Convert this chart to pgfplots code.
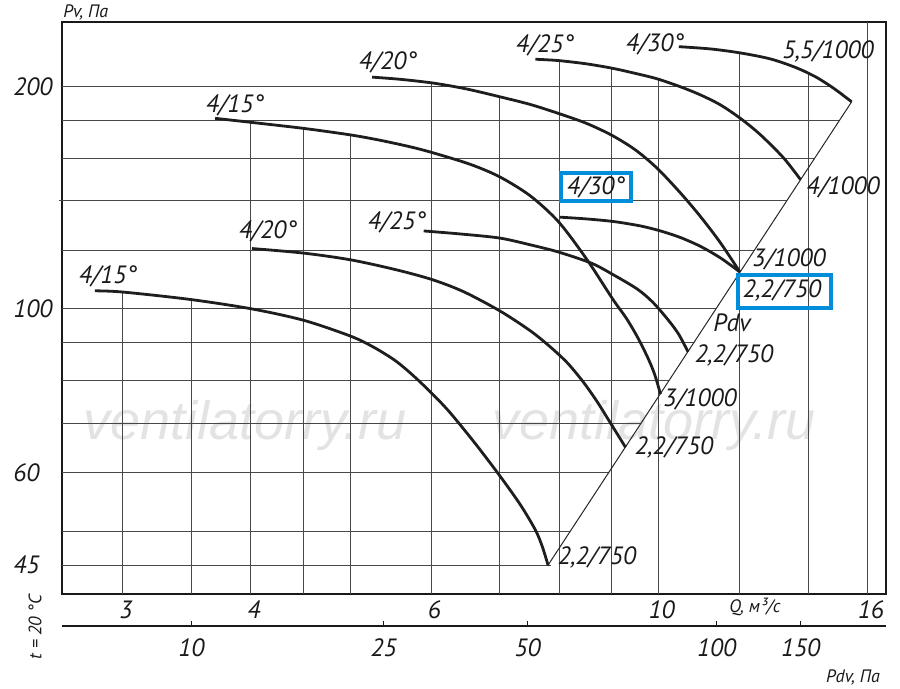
\documentclass[border=0pt]{standalone}
\usepackage{fontspec}
\setmainfont{PT Sans}
\newfontfamily\wmfont{Liberation Sans}
\usepackage{pgfplots}
\pgfplotsset{compat=1.18}
\definecolor{boxblue}{RGB}{0,142,219}
\definecolor{crv}{RGB}{30,30,30}
\pgfplotsset{
  gridl/.style={black!72, line width=0.5pt, mark=none, forget plot},
  fan/.style={crv, line width=1.4pt, mark=none, smooth, tension=0.5, forget plot},
}
\newcommand{\vg}[2]{\addplot[gridl] coordinates {(#1,41.14) (#1,#2)};}
\newcommand{\hg}[2]{\addplot[gridl] coordinates {(2.617,#1) (#2,#1)};}
\begin{document}
\begin{tikzpicture}
\useasboundingbox (-31pt,-47.5pt) rectangle (419pt,297pt);
\begin{scope}[shift={(-31pt,297pt)}, x=0.5pt, y=-0.5pt]
\node[anchor=base, text=black!11, font=\wmfont\itshape\fontsize{27}{27}\selectfont, inner sep=0pt] at (245,440) {ventilatorry.ru};
\node[anchor=base, text=black!11, font=\wmfont\itshape\fontsize{27}{27}\selectfont, inner sep=0pt] at (654,440) {ventilatorry.ru};
\end{scope}
\begin{axis}[at={(0pt,0pt)}, anchor=south west, scale only axis,
  width=412pt, height=286pt,
  xmode=log, ymode=log,
  xmin=2.617, xmax=16.67, ymin=41.14, ymax=244.5,
  xtick={3,4,6,10,16}, xticklabels={3,4,6,10,16},
  ytick={45,60,100,200}, yticklabels={45,60,100,200},
  minor xtick={}, minor ytick={}, major tick length=0pt,
  axis line style={line width=1pt, black!90},
  ticklabel style={font=\fontsize{12.5}{14}\selectfont\itshape, text=black!90},
  xticklabel style={xshift=1.5pt},
  yticklabel style={anchor=west, xshift=-24.5pt, inner xsep=0pt},
  clip=false]
% vertical grid lines (up to the envelope of the curves)
\vg{3}{105.4}
\vg{3.5}{103.0}
\vg{4}{179.0}
\vg{4.5}{175.5}
\vg{5}{172.0}
\vg{6}{202.3}
\vg{7}{193.6}
\vg{8}{216.8}
\vg{9}{211.7}
\vg{10}{204.7}
\vg{12}{222.0}
\vg{14}{208.0}
\vg{16}{244.5}
% horizontal grid lines (up to the Pdv line)
\hg{200}{14.72}
\hg{180}{15.01}
\addplot[gridl] coordinates {(2.60,140) (13.33,140)};
\hg{160}{14.20}
\hg{120}{12.39}
\hg{100}{11.37}
\hg{90}{10.82}
\hg{80}{10.23}
\hg{70}{9.61}
\hg{60}{8.94}
\hg{50}{8.20}
\hg{45}{7.85}
% Pdv line
\addplot[black!85, line width=0.5pt, mark=none] coordinates {(7.80,45) (15.43,190.7)};
% lower group
\addplot[fan] coordinates {(2.818,105.8) (3.000,105.4) (3.490,103.0) (4.010,100.0) (4.506,96.5) (5.002,91.9) (5.268,88.8) (5.535,85.1) (5.764,81.2) (6.029,76.5) (6.264,72.3) (6.626,65.7) (7.009,59.3) (7.332,54.3) (7.584,50.2) (7.703,47.65) (7.803,44.95)};
\addplot[fan] coordinates {(4.010,120.7) (4.502,119.0) (5.010,116.5) (5.556,112.9) (6.020,109.5) (6.454,105.5) (6.998,99.4) (7.497,93.4) (7.843,88.8) (8.148,84.5) (8.446,79.6) (8.716,74.8) (8.974,70.1) (9.282,65.0)};
\addplot[fan] coordinates {(5.899,127.5) (6.406,126.3) (6.998,124.7) (7.497,122.1) (7.985,119.4) (8.600,115.3) (9.035,111.2) (9.530,106.4) (9.863,102.2) (10.20,96.9) (10.457,92.5) (10.683,87.5)};
\addplot[fan] coordinates {(8.010,133.1) (8.484,132.4) (9.035,131.3) (9.601,129.5) (10.042,127.5) (10.504,124.9) (10.988,121.5) (11.494,117.2) (12.003,112.2)};
% upper group
\addplot[fan] coordinates {(3.692,181.1) (4.010,178.8) (4.506,175.5) (5.002,172.0) (5.352,169.1) (5.725,165.7) (6.029,162.6) (6.551,156.9) (6.998,150.9) (7.497,142.2) (7.991,131.1) (8.517,116.5) (9.021,103.1) (9.302,97.1) (9.536,91.6) (9.752,86.1) (9.907,81.7) (10.042,76.7)};
\addplot[fan] coordinates {(5.253,205.9) (5.597,204.5) (6.029,202.1) (6.493,198.5) (7.009,193.6) (7.497,189.1) (7.985,183.9) (8.503,178.3) (9.008,171.7) (9.493,164.1) (9.968,155.0) (10.504,143.5) (10.988,133.3) (11.494,122.8) (12.003,112.2)};
\addplot[fan] coordinates {(7.584,217.7) (7.985,216.8) (8.503,214.6) (9.008,211.7) (9.493,208.3) (9.968,204.8) (10.504,199.8) (10.988,194.8) (11.494,188.8) (12.022,181.0) (12.574,172.0) (13.241,160.1) (13.757,149.6)};
\addplot[fan] coordinates {(10.464,226.4) (11.237,224.8) (12.022,222.0) (12.857,217.9) (13.603,212.2) (14.229,206.1) (14.82,198.9) (15.43,190.7)};
\end{axis}
% Pdv scale
\begin{axis}[at={(0pt,-16pt)}, anchor=south west, scale only axis,
  width=412pt, height=10pt,
  xmode=log, xmin=2.617, xmax=16.67, ymin=0, ymax=1,
  axis y line=none, axis x line=bottom,
  x axis line style={-, line width=1pt, black!90},
  xtick={3.5,5.39,7.45,11.39,13.76}, xticklabels={10,25,50,100,150},
  minor xtick={}, xtick align=inside, major tick length=2.5pt,
  xtick style={line width=0.6pt, black!90},
  ticklabel style={font=\fontsize{12.5}{14}\selectfont\itshape, text=black!90},
  xticklabel style={yshift=-3pt}]
\addplot[draw=none, mark=none] coordinates {(3,0.5) (10,0.5)};
\end{axis}
\begin{scope}[shift={(-31pt,297pt)}, x=0.5pt, y=-0.5pt,
  every node/.style={font=\fontsize{12.5}{14}\selectfont\itshape, text=black!90, inner sep=0pt}]
\node at (108,276) {4/15°};
\node at (268,231) {4/20°};
\node at (397,222) {4/25°};
\node at (235,105) {4/15°};
\node at (388,62) {4/20°};
\node at (545,45) {4/25°};
\node at (655,44) {4/30°};
\node at (828,51) {5,5/1000};
\node at (843,187) {4/1000};
\node at (789,259) {3/1000};
\node at (782,290) {2,2/750};
\node at (596,187) {4/30°};
\node at (732,323) {Pdv};
\node at (734,355) {2,2/750};
\node at (700,399) {3/1000};
\node at (674,447) {2,2/750};
\node at (597,557) {2,2/750};
\draw[boxblue, line width=2pt] (561.3,172.7) rectangle (631.3,200.7);
\draw[boxblue, line width=2pt] (738,274.7) rectangle (831.3,308);
\node[anchor=west, font=\fontsize{9}{10}\selectfont\itshape] at (63,12) {Pv, Па};
\node[font=\fontsize{9}{10}\selectfont\itshape] at (755,607) {Q, м³/с};
\node[font=\fontsize{9}{10}\selectfont\itshape] at (853,677) {Pdv, Па};
\node[rotate=90, font=\fontsize{9}{10}\selectfont\itshape] at (35,627) {t = 20 °C};
\end{scope}
\end{tikzpicture}
\end{document}
